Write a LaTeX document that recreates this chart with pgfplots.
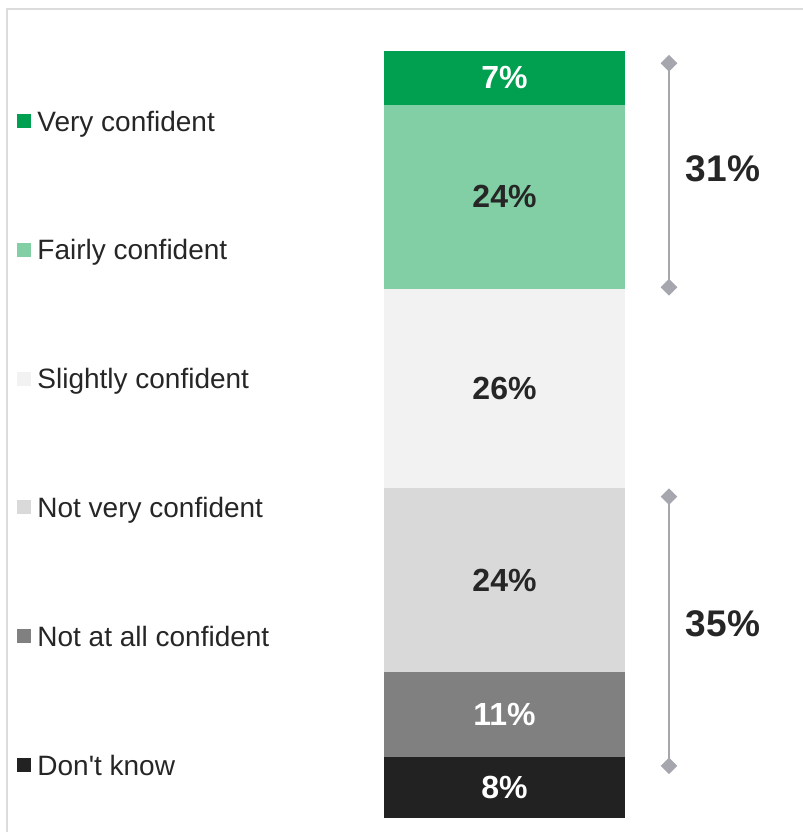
\documentclass[border=0pt]{standalone}
\usepackage{fontspec}
\setmainfont{Liberation Sans}
\usepackage{pgfplots}
\pgfplotsset{compat=1.18}
\definecolor{veryc}{HTML}{00A050}
\definecolor{fairc}{HTML}{82CFA5}
\definecolor{slightc}{HTML}{F2F2F2}
\definecolor{notveryc}{HTML}{D9D9D9}
\definecolor{notallc}{HTML}{808080}
\definecolor{dknow}{HTML}{222222}
\definecolor{txt}{HTML}{262626}
\definecolor{brk}{HTML}{A6A6AE}
\definecolor{boxline}{HTML}{DCDCDC}

% 1 px of the reference = 0.75pt
\pgfplotsset{barframe/.style={anchor=south west,scale only axis,
  width=602.25pt,height=575.25pt,xmin=0,xmax=803,ymin=0,ymax=100,
  hide axis,clip=false}}

\begin{document}
\begin{tikzpicture}
\useasboundingbox (0pt,0pt) rectangle (602.25pt,624pt);
\draw[boxline,line width=1.5pt] (4.9pt,-5pt) -- (4.9pt,617.25pt) -- (610pt,617.25pt);

% stacked bar (y in percent, bar at pixel x 504.5)
\begin{axis}[barframe,at={(0pt,10.5pt)},
  ybar stacked,bar width=180.75pt,
  reverse legend,legend cell align=left,
  legend image code/.code={\fill[#1] (0pt,-2.7pt) rectangle (10.5pt,7.8pt);},
  legend style={draw=none,fill=none,at={(axis cs:17,92.2)},anchor=north west,
    inner sep=0pt,row sep=76.6pt,column sep=4.6pt,
    font=\fontsize{21}{25}\selectfont,text=txt,
    nodes={inner sep=0pt,text height=15pt,text depth=5pt}}]
\addplot[fill=dknow,draw=none] coordinates {(504.5,8)};
\addlegendentry{Don\textquotesingle t know}
\addplot[fill=notallc,draw=none] coordinates {(504.5,11)};
\addlegendentry{Not at all confident}
\addplot[fill=notveryc,draw=none] coordinates {(504.5,24)};
\addlegendentry{Not very confident}
\addplot[fill=slightc,draw=none] coordinates {(504.5,26)};
\addlegendentry{Slightly confident}
\addplot[fill=fairc,draw=none] coordinates {(504.5,24)};
\addlegendentry{Fairly confident}
\addplot[fill=veryc,draw=none] coordinates {(504.5,7)};
\addlegendentry{Very confident}
\end{axis}

% value labels and net-score brackets
\begin{axis}[barframe,at={(0pt,10.5pt)}]
\addplot[brk,line width=1pt,mark=square*,mark size=3.9pt,
  mark options={rotate=45,fill=brk,draw=brk}] coordinates {(669,69.2) (669,98.4)};
\addplot[brk,line width=1pt,mark=square*,mark size=3.9pt,
  mark options={rotate=45,fill=brk,draw=brk}] coordinates {(669,6.8) (669,41.9)};
\node[white,font=\fontsize{24}{28}\selectfont\bfseries] at (axis cs:504.5,4) {8\%};
\node[white,font=\fontsize{24}{28}\selectfont\bfseries] at (axis cs:504.5,13.5) {11\%};
\node[txt,font=\fontsize{24}{28}\selectfont\bfseries] at (axis cs:504.5,31) {24\%};
\node[txt,font=\fontsize{24}{28}\selectfont\bfseries] at (axis cs:504.5,56) {26\%};
\node[txt,font=\fontsize{24}{28}\selectfont\bfseries] at (axis cs:504.5,81) {24\%};
\node[white,font=\fontsize{24}{28}\selectfont\bfseries] at (axis cs:504.5,96.5) {7\%};
\node[txt,font=\fontsize{27.8}{32}\selectfont\bfseries] at (axis cs:723,84.6) {31\%};
\node[txt,font=\fontsize{27.8}{32}\selectfont\bfseries] at (axis cs:723,25.3) {35\%};
\end{axis}
\end{tikzpicture}
\end{document}
